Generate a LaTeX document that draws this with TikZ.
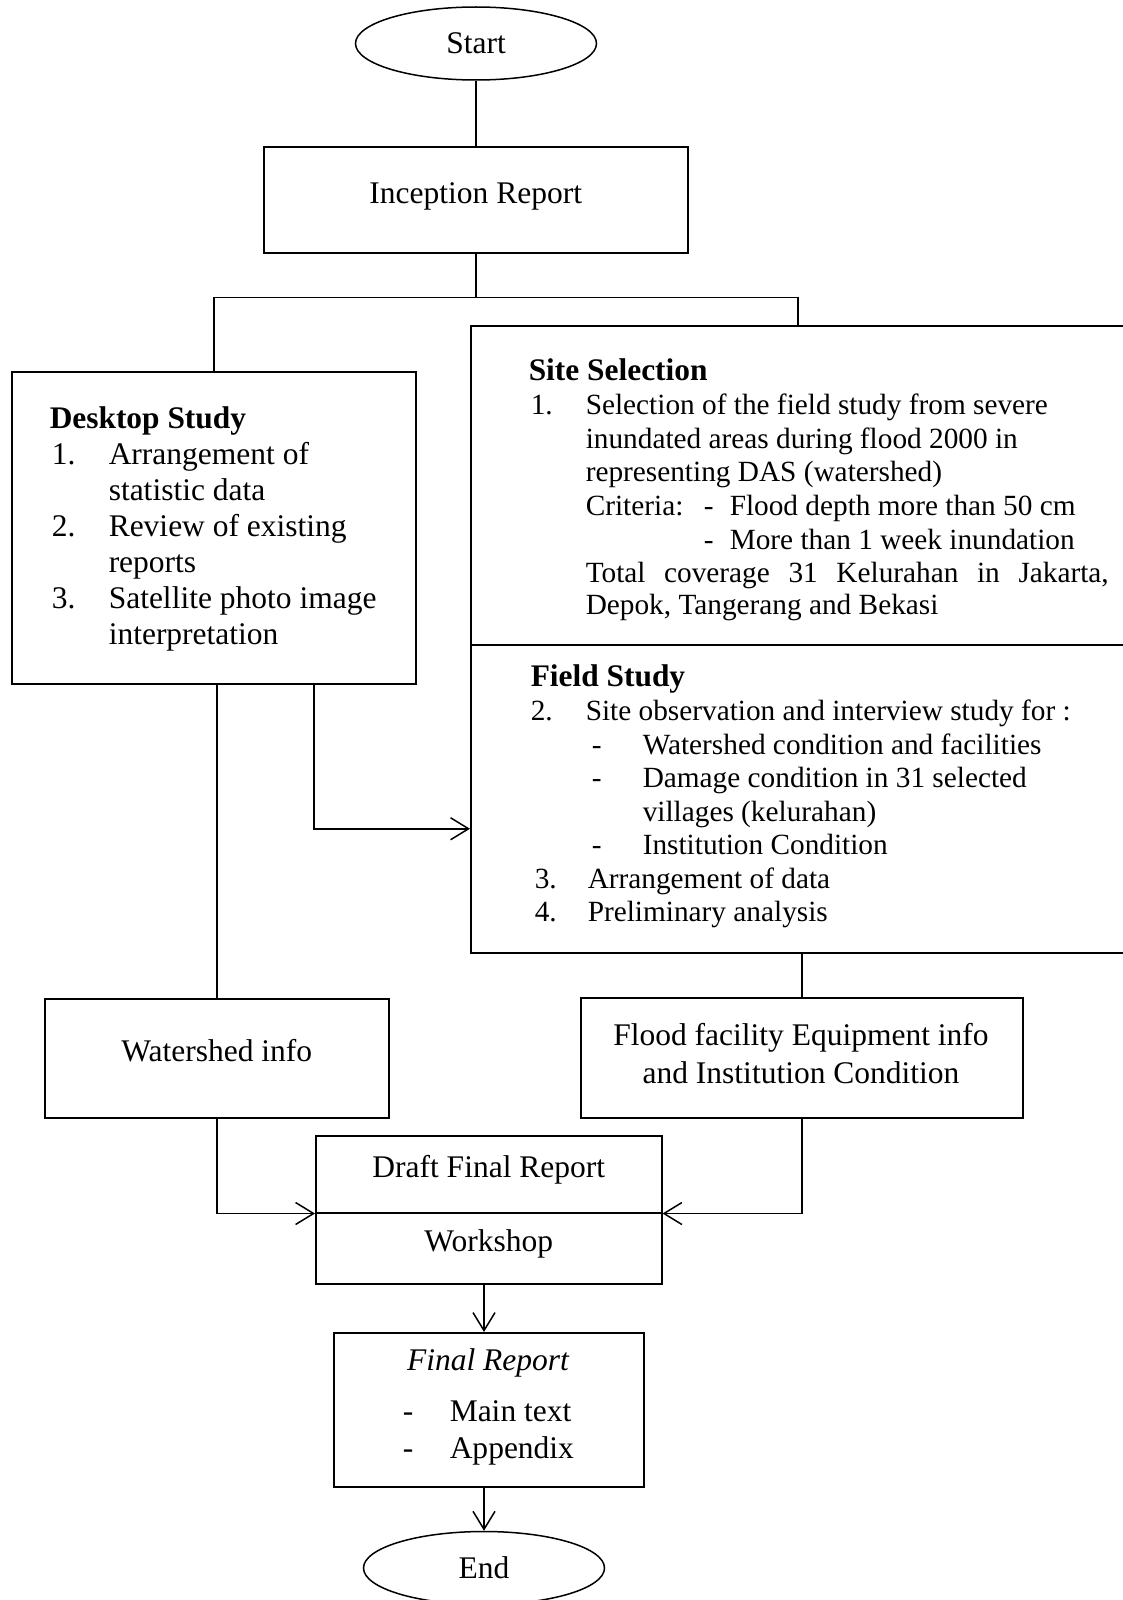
\documentclass[tikz,border=0pt]{standalone}
\usepackage{fontspec}
\setmainfont{Liberation Serif}
\usetikzlibrary{arrows.meta,shapes.geometric}
\begin{document}
\begin{tikzpicture}[x=1pt,y=-1pt,
  line width=1.5pt,
  font=\fontsize{31.5}{36}\selectfont,
  flowbox/.style={draw,rectangle,inner sep=0pt,anchor=north west,
    text height=21pt,text depth=14pt},
  txt/.style={inner sep=0pt,anchor=base west},
  rtxt/.style={inner sep=0pt,anchor=base west,font=\fontsize{29.3}{34}\selectfont},
  hd/.style={inner sep=0pt,anchor=base west,font=\fontsize{31.4}{36}\selectfont\bfseries},
  ctxt/.style={inner sep=0pt,anchor=base},
  term/.style={draw,ellipse,inner sep=0pt,minimum width=241pt,minimum height=73pt},
  arr/.style={-{Straight Barb[length=18pt,width=22pt]}},
]
\useasboundingbox (0,0) rectangle (1122,1600);

% terminals
\node[term] (start) at (476,43.5) {Start};
\node[term] (end) at (484,1568) {End};

% boxes
\node[flowbox,minimum width=424pt,minimum height=106pt] (inception) at (263,146) {Inception Report};
\node[flowbox,minimum width=404pt,minimum height=312pt] (desktop) at (11,371) {};
\node[flowbox,minimum width=654pt,minimum height=319pt] (site) at (470,325) {};
\node[flowbox,minimum width=654pt,minimum height=308pt] (field) at (470,644) {};
\node[flowbox,minimum width=344pt,minimum height=119pt] (watershed) at (44,998) {Watershed info};
\node[flowbox,minimum width=442pt,minimum height=120pt] (flood) at (580,997) {};
\node[flowbox,minimum width=346pt,minimum height=77pt] (draft) at (315,1135) {Draft Final Report};
\node[flowbox,minimum width=346pt,minimum height=71pt] (workshop) at (315,1212) {Workshop};
\node[flowbox,minimum width=310pt,minimum height=154pt] (final) at (333,1332) {};

% Desktop study text
\node[hd] (d0) at (49,428) {Desktop Study};
\node[txt] (d1n) at (51,464) {1.};
\node[txt] (d1) at (108,464) {Arrangement of};
\node[txt] (d1b) at (108,500) {statistic data};
\node[txt] (d2n) at (51,536) {2.};
\node[txt] (d2) at (108,536) {Review of existing};
\node[txt] (d2b) at (108,572) {reports};
\node[txt] (d3n) at (51,608) {3.};
\node[txt] (d3) at (108,608) {Satellite photo image};
\node[txt] (d3b) at (108,644) {interpretation};

% Site selection text
\node[hd] (s0) at (528,380) {Site Selection};
\node[rtxt] (s1n) at (530,414) {1.};
\node[rtxt] (s1) at (585,414) {Selection of the field study from severe};
\node[rtxt] (s2) at (585,448) {inundated areas during flood 2000 in};
\node[rtxt] (s3) at (585,481) {representing DAS (watershed)};
\node[rtxt] (s4) at (585,515) {Criteria:};
\node[rtxt] (s4d) at (703,515) {-};
\node[rtxt] (s4t) at (729,515) {Flood depth more than 50 cm};
\node[rtxt] (s5d) at (703,549) {-};
\node[rtxt] (s5t) at (729,549) {More than 1 week inundation};
\node[rtxt] (s6) at (585,582) {\makebox[523pt][s]{Total coverage 31 Kelurahan in Jakarta,}};
\node[rtxt] (s7) at (585,614) {Depok, Tangerang and Bekasi};

% Field study text
\node[hd] (f0) at (530,686) {Field Study};
\node[rtxt] (f1n) at (530,720) {2.};
\node[rtxt] (f1) at (585,720) {Site observation and interview study for :};
\node[rtxt] (f2d) at (591,754) {-};
\node[rtxt] (f2) at (642,754) {Watershed condition and facilities};
\node[rtxt] (f3d) at (591,787) {-};
\node[rtxt] (f3) at (642,787) {Damage condition in 31 selected};
\node[rtxt] (f3b) at (642,821) {villages (kelurahan)};
\node[rtxt] (f4d) at (591,854) {-};
\node[rtxt] (f4) at (642,854) {Institution Condition};
\node[rtxt] (f5n) at (534,888) {3.};
\node[rtxt] (f5) at (587,888) {Arrangement of data};
\node[rtxt] (f6n) at (534,921) {4.};
\node[rtxt] (f6) at (587,921) {Preliminary analysis};

% Flood facility text
\node[ctxt] (fl1) at (801,1045) {Flood facility Equipment info};
\node[ctxt] (fl2) at (801,1083) {and Institution Condition};

% Final report text
\node[ctxt] (fr0) at (488,1370) {\itshape Final Report};
\node[txt] (fr1d) at (402,1421) {-};
\node[txt] (fr1) at (449,1421) {Main text};
\node[txt] (fr2d) at (402,1458) {-};
\node[txt] (fr2) at (449,1458) {Appendix};

% connectors
\draw (start.south) -- (inception.north -| start.south);
\draw (inception.south -| start.south) -- ++(0,44) coordinate (split);
\draw (desktop.north) |- (split) -| (site.north);
\draw (watershed.north |- desktop.south) -- (watershed.north);
\draw[arr] ([xshift=100pt]desktop.south) |- ([yshift=-30pt]field.west);
\draw (flood.north |- field.south) -- (flood.north);
\draw[arr] (watershed.south) |- (draft.south west);
\draw[arr] (flood.south) |- (draft.south east);
\draw[arr] (workshop.south -| end.north) -- (final.north -| end.north);
\draw[arr] (final.south -| end.north) -- (end.north);
\end{tikzpicture}
\end{document}
